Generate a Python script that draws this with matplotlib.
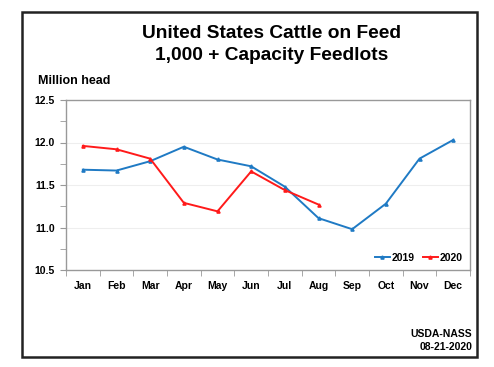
import matplotlib.pyplot as plt
from matplotlib.patches import Rectangle
from matplotlib.ticker import MultipleLocator

plt.rcParams['font.family'] = ['Liberation Sans', 'DejaVu Sans']
plt.rcParams['font.weight'] = 'bold'

months = ['Jan', 'Feb', 'Mar', 'Apr', 'May', 'Jun', 'Jul', 'Aug', 'Sep', 'Oct', 'Nov', 'Dec']
y2019 = [11.68, 11.67, 11.78, 11.95, 11.80, 11.72, 11.48, 11.11, 10.98, 11.28, 11.81, 12.03]
y2020 = [11.96, 11.92, 11.81, 11.29, 11.19, 11.66, 11.44, 11.27]

fig = plt.figure(figsize=(4.94, 3.67), dpi=100)
ax = fig.add_axes([66 / 494, 1 - 270 / 367, 404 / 494, 170 / 367])

# outer frame
fig.patches.append(Rectangle((22 / 494, 1 - 357 / 367), 455 / 494, 345 / 367,
                             transform=fig.transFigure, fill=False,
                             edgecolor='#222222', linewidth=1.8))

x = list(range(len(months)))
ax.plot(x, y2019, color='#1f7ac4', lw=1.4, marker='^', ms=2.3, label='2019')
ax.plot(x[:len(y2020)], y2020, color='#ff1a1a', lw=1.4, marker='^', ms=2.3, label='2020')

ax.set_xlim(-0.5, 11.5)
ax.set_ylim(10.5, 12.5)
ax.yaxis.set_minor_locator(MultipleLocator(0.25))
ax.set_yticks([10.5, 11.0, 11.5, 12.0, 12.5])
ax.set_yticklabels(['10.5', '11.0', '11.5', '12.0', '12.5'])
ax.set_xticks(x)
ax.set_xticklabels(months)
ax.set_xticks([i + 0.5 for i in range(-1, 12)], minor=True)
ax.tick_params(axis='x', which='major', length=0, pad=8, labelsize=7.5)
ax.tick_params(axis='x', which='minor', length=4, color='#999999')
ax.tick_params(axis='y', which='major', length=4, color='#999999', labelsize=7.5, pad=4)
ax.tick_params(axis='y', which='minor', length=4, color='#999999')
for s in ax.spines.values():
    s.set_color('#999999')
    s.set_linewidth(1.0)
for v in [11.0, 11.5, 12.0]:
    ax.axhline(v, color='#eeeeee', lw=0.8, zorder=0)

ax.legend(loc='lower right', frameon=False, ncol=2, fontsize=7.5,
          handlelength=1.4, handletextpad=0.2, columnspacing=0.8,
          borderaxespad=0.3)

fig.text(272 / 494, 1 - 34 / 367, 'United States Cattle on Feed',
         ha='center', va='center', fontsize=13.8)
fig.text(272 / 494, 1 - 55 / 367, '1,000 + Capacity Feedlots',
         ha='center', va='center', fontsize=13.8)
fig.text(38 / 494, 1 - 81 / 367, 'Million head', ha='left', va='center', fontsize=9)
fig.text(472 / 494, 1 - 334 / 367, 'USDA-NASS', ha='right', va='center', fontsize=7.5)
fig.text(472 / 494, 1 - 347 / 367, '08-21-2020', ha='right', va='center', fontsize=7.5)

fig.savefig('out.png', dpi=100)
